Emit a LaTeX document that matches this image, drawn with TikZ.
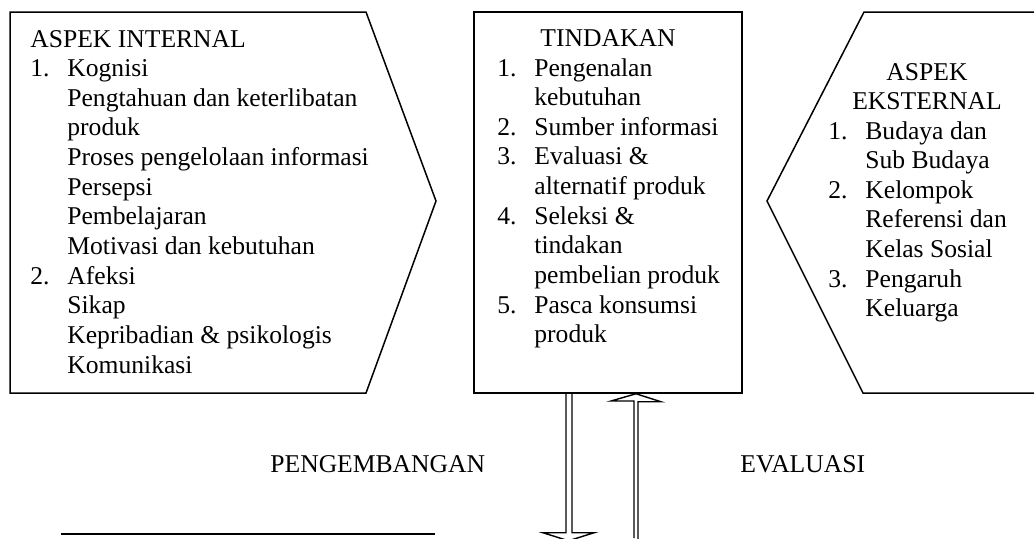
\documentclass[tikz,border=0pt]{standalone}
\usepackage{fontspec}
\setmainfont{Liberation Serif}
\usetikzlibrary{calc}
\newcommand{\numi}[2]{\makebox[18.5pt][l]{#1}#2}
\newcommand{\cnt}[1]{\makebox[18.5pt][l]{}#1}
\newenvironment{lns}{\begin{tabular}[t]{@{}l@{}}}{\end{tabular}}
\tikzset{
  outline/.style={line width=0.75pt, line join=miter},
  txt/.style={font=\fontsize{12.8}{14.82}\selectfont, inner sep=0pt, anchor=base west},
  arrowline/.style={line width=0.7pt, line join=miter},
}
\begin{document}
\begin{tikzpicture}[x=0.5pt,y=-0.5pt]
\useasboundingbox (0,0) rectangle (1034,538);
% left pentagon
\draw[outline] (10,12) -- (366,12) -- (436,201) -- (366,393) -- (10,393) -- cycle;
% middle box
\node[draw, outline, minimum width=134pt, minimum height=190.5pt, inner sep=0pt] (tind) at (608,202.5) {};
% right shape
\draw[outline] (1034,12) -- (864,12) -- (767,201) -- (863,393) -- (1034,393);

% left text
\node[txt] (intl) at (30,47) {\begin{lns}ASPEK INTERNAL\\
\numi{1.}{Kognisi}\\
\cnt{Pengtahuan dan keterlibatan}\\
\cnt{produk}\\
\cnt{Proses pengelolaan informasi}\\
\cnt{Persepsi}\\
\cnt{Pembelajaran}\\
\cnt{Motivasi dan kebutuhan}\\
\numi{2.}{Afeksi}\\
\cnt{Sikap}\\
\cnt{Kepribadian \& psikologis}\\
\cnt{Komunikasi}\end{lns}};

% middle text
\node[txt, anchor=base] (tindt) at (608,46) {TINDAKAN};
\node[txt] (tindl) at (497,76) {\begin{lns}\numi{1.}{Pengenalan}\\
\cnt{kebutuhan}\\
\numi{2.}{Sumber informasi}\\
\numi{3.}{Evaluasi \&}\\
\cnt{alternatif produk}\\
\numi{4.}{Seleksi \&}\\
\cnt{tindakan}\\
\cnt{pembelian produk}\\
\numi{5.}{Pasca konsumsi}\\
\cnt{produk}\end{lns}};

% right text
\node[txt, anchor=base] (ext1) at (927,80) {ASPEK};
\node[txt, anchor=base] (ext2) at (927,109.5) {EKSTERNAL};
\node[txt] (extl) at (828,139) {\begin{lns}\numi{1.}{Budaya dan}\\
\cnt{Sub Budaya}\\
\numi{2.}{Kelompok}\\
\cnt{Referensi dan}\\
\cnt{Kelas Sosial}\\
\numi{3.}{Pengaruh}\\
\cnt{Keluarga}\end{lns}};

% arrows
\draw[arrowline] ($(tind.south)+(-42,0)$) -- ++(0,139) -- ++(-23,0) -- ++(25.5,8) -- ++(25.5,-8) -- ++(-22,0) -- ++(0,-139);
\coordinate (upbase) at (634,538);
\draw[arrowline] (upbase) -- ++(0,-137) -- ++(-23,0) -- ($(tind.south)+(28,0)$) -- ++(25,8) -- ++(-23,0) -- ++(0,137);

% labels
\node[txt] (peng) at (270,472) {PENGEMBANGAN};
\node[txt] (eval) at (740,472) {EVALUASI};

% bottom line
\coordinate (la) at (61,534);
\coordinate (lb) at (435,534);
\draw[line width=1.2pt] (la) -- (lb);
\end{tikzpicture}
\end{document}
